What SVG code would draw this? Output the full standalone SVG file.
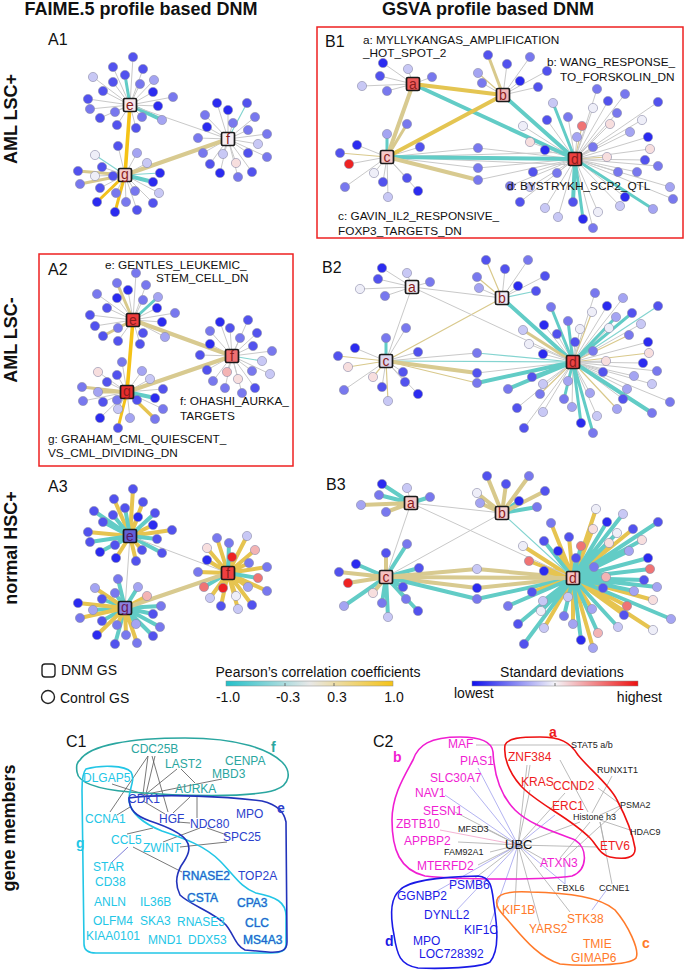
<svg xmlns="http://www.w3.org/2000/svg" width="685" height="973" viewBox="0 0 685 973">
<style>
text{font-family:"Liberation Sans",Arial,sans-serif;fill:#111}
.hd{font-size:18px;font-weight:bold;text-anchor:middle}
.rl{font-size:18px;font-weight:bold;text-anchor:middle}
.pl{font-size:16px}
.an{font-size:11.8px}
.lg{font-size:14px}
.gy,.tl,.tn,.gd,.yl,.kh,.khn,.tl3,.kh3,.gd3,.yl3{fill:none;stroke-linecap:round}
.gy{stroke:#c9c9c9;stroke-width:1}
.tn{stroke:#84d4d0;stroke-width:1.2}
.khn{stroke:#d9c98c;stroke-width:1.2}
.tl{stroke:#62ccc6;stroke-width:4}
.tl3{stroke:#62ccc6;stroke-width:3}
.gd{stroke:#f5c316;stroke-width:3.6}
.gd3{stroke:#f2c11c;stroke-width:3}
.yl{stroke:#e4c552;stroke-width:4}
.yl3{stroke:#e6c450;stroke-width:3.4}
.kh{stroke:#d8ca90;stroke-width:4}
.kh3{stroke:#d8c98c;stroke-width:3}
.w4{stroke-width:4}
.sat circle{stroke:#8a8aa8;stroke-width:.6}
.k1{fill:#2b2bf0}.k2{fill:#5252ee}.k3{fill:#7878ee}.k4{fill:#a4a4f2}.k5{fill:#c8c8f5}
.k6{fill:#eeeef8}.k7{fill:#f7dede}.k8{fill:#f3b4b4}.k9{fill:#f07474}.k10{fill:#ee2222}
.hub rect{stroke:#1a1a1a;stroke-width:1.7}
.hub text{font-size:14px;fill:#8a1c1c;text-anchor:middle}
.box{fill:none;stroke:#ee2020;stroke-width:1.5}
.cl{font-size:12px}
.cy{fill:#22c6e6}.bl{fill:#2b3fcc}.tq{fill:#2aa6a0}.mx{fill:#2a5fcc;stroke:#3cc8e8;stroke-width:.6;paint-order:stroke}
.mg{fill:#f01ed2}.rd{fill:#ee1c1c}.or{fill:#ff7a2a}.db{fill:#1a1ae6}.sm{font-size:9px;fill:#222}
.bd{font-weight:bold;font-size:14px}
.cln{stroke:#555;stroke-width:.8;fill:none}
.ug{stroke:#aaaaaa;stroke-width:.8;fill:none}
.ub{stroke:#a0a0ee;stroke-width:.8;fill:none}
</style>
<defs>
<linearGradient id="pcc" x1="0" x2="1" y1="0" y2="0"><stop offset="0" stop-color="#22c0c8"/><stop offset="0.5" stop-color="#e8e8e8"/><stop offset="1" stop-color="#f5c316"/></linearGradient>
<linearGradient id="sdg" x1="0" x2="1" y1="0" y2="0"><stop offset="0" stop-color="#1010ee"/><stop offset="0.5" stop-color="#f4f4f8"/><stop offset="1" stop-color="#ee1010"/></linearGradient>
</defs>
<rect width="685" height="973" fill="#fff"/>

<g id="headers">
<text class="hd" x="141" y="15">FAIME.5 profile based DNM</text>
<text class="hd" x="488" y="15">GSVA profile based DNM</text>
<text class="rl" transform="translate(17,119) rotate(-90)">AML LSC+</text>
<text class="rl" transform="translate(17,340) rotate(-90)">AML LSC-</text>
<text class="rl" transform="translate(17,548) rotate(-90)">normal HSC+</text>
<text class="rl" transform="translate(15,828) rotate(-90)">gene members</text>
<text class="pl" x="48" y="45">A1</text>
<text class="pl" x="325" y="47">B1</text>
<text class="pl" x="48" y="275">A2</text>
<text class="pl" x="322" y="273">B2</text>
<text class="pl" x="48" y="492">A3</text>
<text class="pl" x="326" y="490">B3</text>
<rect class="box" x="317" y="27" width="366" height="211"/>
<rect class="box" x="39" y="254" width="254" height="212"/>
</g>

<g id="connectors">
<!-- A1 -->
<path class="gy" d="M130 105L133 57M130 105L113 67M130 105L143 69M130 105L93 77M130 105L113 82M130 105L140 84M130 105L154 80M130 105L103 91M130 105L153 92M130 105L173 97M130 105L88 99M130 105L158 106M130 105L90 109M130 105L115 112M130 105L142 117M130 105L100 118M130 105L117 125M130 105L136 128"/>
<path class="gy" d="M228 139L217 103M228 139L228 110M228 139L205 115M228 139L255 117M228 139L207 127M228 139L233 123M228 139L248 130M228 139L267 134M228 139L198 138M228 139L258 144M228 139L203 153M228 139L223 154M228 139L248 153M228 139L267 157M228 139L210 164M228 139L236 163M228 139L220 173M228 139L252 172M228 139L238 177"/>
<path class="tn" d="M228 139L247 103M125 175L95 155M125 175L160 173"/>
<path class="gy" d="M125 175L118 146M125 175L137 153M125 175L147 163M125 175L102 167M125 175L95 176M125 175L113 176M125 175L100 188M125 175L135 191M125 175L116 193M125 175L159 193M125 175L126 202M125 175L153 203M125 175L137 210"/>
<path class="kh3" d="M125 175L78 171M125 175L80 184"/>
<path class="gd3" d="M125 175L115 212M125 175L97 202"/>
<path class="tl" d="M125 175L153 182M130 105L162 120"/>
<path class="tl3" d="M130 105L125 75"/>
<path class="gy" d="M130 105L228 139"/>
<path class="gd" d="M130 105L125 175"/>
<path class="kh" d="M125 175L228 139"/>
<!-- A2 -->
<path class="gy" d="M133 320L136 273M133 320L146 285M133 320L128 290M133 320L97 294M133 320L117 298M133 320L143 300M133 320L157 308M133 320L107 308M133 320L175 313M133 320L90 315M133 320L162 322M133 320L118 328M133 320L95 326M133 320L143 333M133 320L165 337M133 320L118 341M133 320L140 344"/>
<path class="gy" d="M232 356L220 322M232 356L248 320M232 356L210 331M232 356L230 328M232 356L257 333M232 356L240 338M232 356L200 355M232 356L253 346M232 356L210 344M232 356L272 351M232 356L207 370M232 356L227 372M232 356L252 371M232 356L270 374M232 356L213 381M232 356L238 379M232 356L225 388M232 356L255 388M232 356L242 393"/>
<path class="gy" d="M127 392L122 362M127 392L98 372M127 392L117 375M127 392L142 371M127 392L150 379M127 392L107 382M127 392L163 389M127 392L83 401M127 392L103 402M127 392L117 400M127 392L137 400M127 392L118 409M127 392L163 409M127 392L100 418M127 392L130 418"/>
<path class="tn" d="M232 356L262 361"/>
<path class="kh3" d="M133 320L117 283M133 320L103 336M127 392L82 387M127 392L98 392"/>
<path class="tl3" d="M133 320L158 297"/>
<path class="gd3" d="M127 392L118 428"/>
<path class="yl3" d="M127 392L155 419"/>
<path class="tl" d="M127 392L155 398"/>
<path class="kh" d="M133 320L232 356M127 392L232 356"/>
<path class="gd" d="M133 320L127 392"/>
<!-- A3 -->
<path class="yl3 w4" d="M130 536L133 489M130 536L114 499M130 536L143 502M130 536L138 517M130 536L153 525M130 536L88 532M130 536L172 530M130 536L142 550M130 536L116 558M130 536L136 561"/>
<path class="tl3 w4" d="M130 536L125 508M130 536L94 511M130 536L155 513M130 536L113 515M130 536L103 522M130 536L157 539M130 536L90 542M130 536L115 545M130 536L100 552M130 536L162 553"/>
<path class="yl3 w4" d="M228 573L217 538M228 573L247 536M228 573L207 548M228 573L255 550M228 573L232 557M228 573L207 560M228 573L249 563M228 573L198 572M228 573L267 567M228 573L223 588M228 573L248 587M228 573L267 591M228 573L210 598M228 573L236 596M228 573L221 606M228 573L252 605M228 573L238 609"/>
<path class="tl3 w4" d="M228 573L229 543M228 573L204 587M228 573L258 578"/>
<path class="tl3 w4" d="M125 608L118 579M125 608L138 587M125 608L102 599M125 608L115 593M125 608L161 606M125 608L93 610M125 608L153 614M125 608L102 621M125 608L136 624M125 608L160 627M125 608L153 636M125 608L115 644"/>
<path class="yl3 w4" d="M125 608L95 588M125 608L147 596M125 608L78 603M125 608L80 618M125 608L117 625M125 608L97 635M125 608L126 635M125 608L137 643"/>
<path class="gy" d="M130 536L228 573M130 536L125 608"/>
<path class="kh" d="M125 608L228 573"/>
<!-- B1 -->
<path class="gy" d="M413 84L383 63M413 84L408 69M413 84L380 76M413 84L362 86M413 84L387 91M413 84L432 77"/>
<path class="gy" d="M503 95L507 64M503 95L530 57M503 95L482 83M503 95L520 81M503 95L547 71M503 95L538 87"/>
<path class="khn" d="M503 95L478 73M387 157L340 153M575 159L582 126M575 159L607 157"/>
<path class="kh3" d="M503 95L488 55M387 157L407 124"/>
<path class="tl3" d="M387 157L387 134"/>
<path class="gy" d="M387 157L357 145M387 157L349 164M387 157L374 173M387 157L420 147M387 157L407 178M387 157L383 182M387 157L345 187M387 157L418 191M387 157L388 197M387 157L478 148M387 157L478 168M575 159L478 148M575 159L478 168M575 159L478 180M387 157L575 152M387 157L575 165"/>
<path class="gy" d="M575 159L597 89M575 159L608 101M575 159L625 94M575 159L658 102M575 159L593 108M575 159L617 113M575 159L642 120M575 159L547 120M575 159L568 117M575 159L610 124M575 159L523 126M575 159L630 132M575 159L530 142M575 159L577 137M575 159L648 137M575 159L545 150M575 159L593 147M575 159L650 149M575 159L645 160M575 159L658 166M575 159L533 172M575 159L557 173M575 159L618 172M575 159L637 172M575 159L510 186M575 159L530 187M575 159L670 187M575 159L625 197M575 159L673 199M575 159L520 202M575 159L545 208M575 159L598 212M575 159L620 206M575 159L558 217M575 159L593 228"/>
<path class="tl3" d="M575 159L553 103M575 159L583 219M575 159L653 209"/>
<path class="tl" d="M575 159L573 202M413 84L575 159M503 95L575 159M387 157L575 159"/>
<path class="kh" d="M413 84L387 157M387 157L478 180"/>
<path class="yl" d="M413 84L503 95M503 95L387 157"/>
<!-- B2 -->
<path class="gy" d="M412 287L382 268M412 287L407 273M412 287L378 279M412 287L430 282M412 287L360 289M412 287L385 296"/>
<path class="gy" d="M502 298L528 260M502 298L505 269M502 298L545 276M502 298L479 288M502 298L518 286"/>
<path class="khn" d="M502 298L486 260M502 298L477 277M386 361L338 356M386 361L348 367M386 361L373 377M386 361L388 401M386 361L477 383M573 362L540 394M573 362L617 409M573 362L592 312M573 362L649 353M573 362L629 335M502 298L386 361"/>
<path class="tn" d="M502 298L536 291M573 362L658 306M573 362L477 353"/>
<path class="tl3" d="M386 361L386 338"/>
<path class="gy" d="M386 361L406 328M386 361L355 348M386 361L418 352M386 361L403 372M386 361L405 382M386 361L382 387M386 361L344 390M386 361L418 394M386 361L477 353M573 362L477 373"/>
<path class="gy" d="M573 362L595 293M573 362L623 298M573 362L607 306M573 362L580 329M573 362L609 328M573 362L641 324M573 362L544 325M573 362L557 334M573 362L529 344M573 362L575 342M573 362L593 351M573 362L648 342M573 362L543 354M573 362L606 361M573 362L643 363M573 362L603 372M573 362L657 371M573 362L634 376M573 362L568 381M573 362L543 384M573 362L652 384M573 362L627 389M573 362L590 393M573 362L623 399M573 362L670 402M573 362L517 408M573 362L572 407M573 362L543 412M573 362L597 416M573 362L524 428"/>
<path class="tl3" d="M573 362L551 307M573 362L568 321M573 362L632 313M573 362L616 317M573 362L532 377M573 362L581 423M573 362L593 433M573 362L564 399"/>
<path class="tl" d="M573 362L508 389M573 362L652 413M573 362L477 383M502 298L573 362"/>
<path class="kh3" d="M573 362L523 330"/>
<path class="tn" d="M386 361L573 362"/>
<path class="gy" d="M412 287L502 298M412 287L386 361M412 287L573 362"/>
<path class="kh" d="M386 361L477 373"/>
<!-- B3 -->
<path class="tl3 w4" d="M411 503L382 484M411 503L379 495M411 503L430 497M502 513L519 501M502 513L537 507"/>
<path class="kh3 w4" d="M411 503L361 505M411 503L386 512M502 513L487 476M502 513L529 476M502 513L506 484M502 513L477 493M502 513L480 503M502 513L545 491"/>
<path class="gy" d="M411 503L407 488"/>
<path class="tl3 w4" d="M386 577L407 544M386 577L356 564M386 577L419 568M386 577L403 587M386 577L406 599M386 577L382 603M386 577L344 606M386 577L418 611M386 577L388 617"/>
<path class="kh3 w4" d="M386 577L386 553M386 577L339 572M386 577L348 583M386 577L373 593"/>
<path class="kh" d="M386 577L477 569M386 577L477 588M573 578L477 569M573 578L477 588"/>
<path class="tl" d="M386 577L477 599M573 578L477 599"/>
<path class="yl3 w4" d="M573 578L596 509M573 578L551 523M573 578L593 529M573 578L633 529M573 578L569 537M573 578L609 543M573 578L523 546M573 578L558 551M573 578L529 561M573 578L594 567M573 578L544 571M573 578L606 577M573 578L603 588M573 578L532 592M573 578L568 597M573 578L653 600M573 578L627 606M573 578L592 609M573 578L624 615M573 578L573 624M573 578L544 628M573 578L653 630M573 578L593 648"/>
<path class="tl3 w4" d="M573 578L623 514M573 578L607 522M573 578L658 522M573 578L617 533M573 578L581 546M573 578L642 540M573 578L544 541M573 578L629 551M573 578L576 558M573 578L648 558M573 578L650 569M573 578L644 580M573 578L657 587M573 578L634 591M573 578L543 601M573 578L508 606M573 578L541 611M573 578L564 616M573 578L671 619M573 578L518 624M573 578L618 627M573 578L598 633M573 578L581 640M573 578L524 644"/>
<path class="gy" d="M411 503L502 513M411 503L386 577M411 503L573 578M502 513L386 577"/>
<path class="tn" d="M502 513L573 578"/>
<path class="kh" d="M386 577L573 578"/>
<!-- C1 -->
<path class="cln" d="M148 756L110 812M148 756L143 794M152 756L168 812M155 756L146 794M177 769L146 794M181 769L195 783M222 779L147 794M112 784L146 795M143 801L165 814M190 797L173 813M197 797L197 818M130 807L117 815M127 834L153 828M163 842L200 828M207 828L227 835M180 847L227 842M177 822L190 823M133 847L182 872"/>
<path d="M128 847L112 862" stroke="#5a5acc" stroke-width=".8" fill="none"/>
<!-- C2 -->
<path class="ug" d="M518 845L527 765M518 845L530 790M518 845L455 812M518 845L488 830M518 845L458 842M518 845L490 852M518 845L478 865M518 845L470 882M518 845L515 905M518 845L540 925M518 845L570 912M518 845L548 862M518 845L598 847M518 845L580 822M518 845L565 793M476 745L570 745M530 765L528 778M560 760L588 812M612 776L592 813M598 788L620 804M620 806L600 815M620 808L565 858M600 820L630 830M590 822L560 858M600 822L605 846M612 884L600 822"/>
<path class="ub" d="M518 845L478 768M518 845L470 786M518 845L445 795M518 845L430 895M518 845L455 912M518 845L490 925M518 845L555 815M518 845L565 884M608 888L592 910M565 862L565 884"/>
<path d="M518 845L440 830" stroke="#f0a0c8" stroke-width=".8" fill="none"/>
</g>

<g id="A1-satellites" class="sat">
<circle cx="133" cy="57" r="4.6" class="k2"/><circle cx="113" cy="67" r="4.6" class="k2"/><circle cx="143" cy="69" r="4.6" class="k2"/><circle cx="93" cy="77" r="4.6" class="k5"/><circle cx="125" cy="75" r="4.6" class="k2"/><circle cx="113" cy="82" r="4.6" class="k2"/><circle cx="140" cy="84" r="4.6" class="k3"/><circle cx="154" cy="80" r="4.6" class="k4"/><circle cx="103" cy="91" r="4.6" class="k2"/><circle cx="153" cy="92" r="4.6" class="k1"/><circle cx="173" cy="97" r="4.6" class="k3"/><circle cx="88" cy="99" r="4.6" class="k2"/><circle cx="158" cy="106" r="4.6" class="k1"/><circle cx="90" cy="109" r="4.6" class="k3"/><circle cx="115" cy="112" r="4.6" class="k3"/><circle cx="142" cy="117" r="4.6" class="k3"/><circle cx="162" cy="120" r="4.6" class="k4"/><circle cx="100" cy="118" r="4.6" class="k2"/><circle cx="117" cy="125" r="4.6" class="k2"/><circle cx="136" cy="128" r="4.6" class="k2"/>
<circle cx="217" cy="103" r="4.6" class="k1"/><circle cx="228" cy="110" r="4.6" class="k1"/><circle cx="247" cy="103" r="4.6" class="k2"/><circle cx="205" cy="115" r="4.6" class="k3"/><circle cx="255" cy="117" r="4.6" class="k3"/><circle cx="207" cy="127" r="4.6" class="k1"/><circle cx="233" cy="123" r="4.6" class="k3"/><circle cx="248" cy="130" r="4.6" class="k3"/><circle cx="267" cy="134" r="4.6" class="k3"/><circle cx="198" cy="138" r="4.6" class="k3"/><circle cx="258" cy="144" r="4.6" class="k5"/><circle cx="203" cy="153" r="4.6" class="k3"/><circle cx="223" cy="154" r="4.6" class="k5"/><circle cx="248" cy="153" r="4.6" class="k2"/><circle cx="267" cy="157" r="4.6" class="k3"/><circle cx="210" cy="164" r="4.6" class="k2"/><circle cx="236" cy="163" r="4.6" class="k7"/><circle cx="220" cy="173" r="4.6" class="k1"/><circle cx="252" cy="172" r="4.6" class="k2"/><circle cx="238" cy="177" r="4.6" class="k3"/>
<circle cx="118" cy="146" r="4.6" class="k2"/><circle cx="95" cy="155" r="4.6" class="k6"/><circle cx="137" cy="153" r="4.6" class="k4"/><circle cx="147" cy="163" r="4.6" class="k5"/><circle cx="102" cy="167" r="4.6" class="k2"/><circle cx="78" cy="171" r="4.6" class="k2"/><circle cx="160" cy="173" r="4.6" class="k1"/><circle cx="95" cy="176" r="4.6" class="k6"/><circle cx="113" cy="176" r="4.6" class="k2"/><circle cx="153" cy="182" r="4.6" class="k1"/><circle cx="80" cy="184" r="4.6" class="k3"/><circle cx="100" cy="188" r="4.6" class="k2"/><circle cx="135" cy="191" r="4.6" class="k3"/><circle cx="116" cy="193" r="4.6" class="k3"/><circle cx="159" cy="193" r="4.6" class="k5"/><circle cx="97" cy="202" r="4.6" class="k1"/><circle cx="126" cy="202" r="4.6" class="k3"/><circle cx="153" cy="203" r="4.6" class="k2"/><circle cx="115" cy="212" r="4.6" class="k1"/><circle cx="137" cy="210" r="4.6" class="k2"/>
</g>
<g id="A1-e" class="hub"><rect x="123.5" y="98.5" width="13" height="13" rx="1.5" fill="#f8e8ec"/><text x="130" y="110">e</text></g>
<g id="A1-f" class="hub"><rect x="221.5" y="132.5" width="13" height="13" rx="1.5" fill="#f6f0f5"/><text x="228" y="144">f</text></g>
<g id="A1-g" class="hub"><rect x="118.5" y="168.5" width="13" height="13" rx="1.5" fill="#f3cccc"/><text x="125" y="179">g</text></g>

<g id="A2-satellites" class="sat">
<circle cx="136" cy="273" r="4.6" class="k3"/><circle cx="117" cy="283" r="4.6" class="k3"/><circle cx="146" cy="285" r="4.6" class="k3"/><circle cx="128" cy="290" r="4.6" class="k1"/><circle cx="97" cy="294" r="4.6" class="k3"/><circle cx="117" cy="298" r="4.6" class="k1"/><circle cx="143" cy="300" r="4.6" class="k3"/><circle cx="158" cy="297" r="4.6" class="k4"/><circle cx="157" cy="308" r="4.6" class="k1"/><circle cx="107" cy="308" r="4.6" class="k2"/><circle cx="175" cy="313" r="4.6" class="k3"/><circle cx="90" cy="315" r="4.6" class="k2"/><circle cx="162" cy="322" r="4.6" class="k1"/><circle cx="118" cy="328" r="4.6" class="k3"/><circle cx="95" cy="326" r="4.6" class="k2"/><circle cx="143" cy="333" r="4.6" class="k2"/><circle cx="165" cy="337" r="4.6" class="k4"/><circle cx="103" cy="336" r="4.6" class="k2"/><circle cx="118" cy="341" r="4.6" class="k2"/><circle cx="140" cy="344" r="4.6" class="k2"/>
<circle cx="220" cy="322" r="4.6" class="k1"/><circle cx="248" cy="320" r="4.6" class="k2"/><circle cx="210" cy="331" r="4.6" class="k3"/><circle cx="230" cy="328" r="4.6" class="k2"/><circle cx="257" cy="333" r="4.6" class="k2"/><circle cx="240" cy="338" r="4.6" class="k3"/><circle cx="200" cy="355" r="4.6" class="k2"/><circle cx="253" cy="346" r="4.6" class="k2"/><circle cx="210" cy="344" r="4.6" class="k1"/><circle cx="272" cy="351" r="4.6" class="k3"/><circle cx="262" cy="361" r="4.6" class="k5"/><circle cx="207" cy="370" r="4.6" class="k2"/><circle cx="227" cy="372" r="4.6" class="k8"/><circle cx="252" cy="371" r="4.6" class="k3"/><circle cx="270" cy="374" r="4.6" class="k5"/><circle cx="213" cy="381" r="4.6" class="k3"/><circle cx="238" cy="379" r="4.6" class="k7"/><circle cx="225" cy="388" r="4.6" class="k3"/><circle cx="255" cy="388" r="4.6" class="k2"/><circle cx="242" cy="393" r="4.6" class="k3"/>
<circle cx="122" cy="362" r="4.6" class="k3"/><circle cx="98" cy="372" r="4.6" class="k7"/><circle cx="117" cy="375" r="4.6" class="k2"/><circle cx="142" cy="371" r="4.6" class="k4"/><circle cx="150" cy="379" r="4.6" class="k5"/><circle cx="82" cy="387" r="4.6" class="k3"/><circle cx="107" cy="382" r="4.6" class="k2"/><circle cx="98" cy="392" r="4.6" class="k4"/><circle cx="163" cy="389" r="4.6" class="k2"/><circle cx="155" cy="398" r="4.6" class="k1"/><circle cx="83" cy="401" r="4.6" class="k3"/><circle cx="103" cy="402" r="4.6" class="k2"/><circle cx="117" cy="400" r="4.6" class="k3"/><circle cx="137" cy="400" r="4.6" class="k2"/><circle cx="118" cy="409" r="4.6" class="k5"/><circle cx="163" cy="409" r="4.6" class="k3"/><circle cx="100" cy="418" r="4.6" class="k1"/><circle cx="130" cy="418" r="4.6" class="k4"/><circle cx="155" cy="419" r="4.6" class="k3"/><circle cx="118" cy="428" r="4.6" class="k2"/>
</g>
<g id="A2-e" class="hub"><rect x="126.5" y="313.5" width="13" height="13" rx="1.5" fill="#ee3b3b"/><text x="133" y="325">e</text></g>
<g id="A2-f" class="hub"><rect x="225.5" y="349.5" width="13" height="13" rx="1.5" fill="#f07070"/><text x="232" y="361">f</text></g>
<g id="A2-g" class="hub"><rect x="120.5" y="385.5" width="13" height="13" rx="1.5" fill="#e82c2c"/><text x="127" y="396">g</text></g>
<g id="A2-labels">
<text class="an" x="105" y="269">e: GENTLES_LEUKEMIC_</text>
<text class="an" x="156" y="282">STEM_CELL_DN</text>
<text class="an" x="180" y="405">f: OHASHI_AURKA_</text>
<text class="an" x="180" y="420">TARGETS</text>
<text class="an" x="48" y="443">g: GRAHAM_CML_QUIESCENT_</text>
<text class="an" x="48" y="457">VS_CML_DIVIDING_DN</text>
</g>

<g id="A3-satellites" class="sat">
<circle cx="133" cy="489" r="4.6" class="k2"/><circle cx="114" cy="499" r="4.6" class="k2"/><circle cx="143" cy="502" r="4.6" class="k2"/><circle cx="125" cy="508" r="4.6" class="k2"/><circle cx="94" cy="511" r="4.6" class="k2"/><circle cx="155" cy="513" r="4.6" class="k2"/><circle cx="113" cy="515" r="4.6" class="k2"/><circle cx="138" cy="517" r="4.6" class="k1"/><circle cx="103" cy="522" r="4.6" class="k2"/><circle cx="153" cy="525" r="4.6" class="k1"/><circle cx="88" cy="532" r="4.6" class="k2"/><circle cx="172" cy="530" r="4.6" class="k2"/><circle cx="157" cy="539" r="4.6" class="k2"/><circle cx="90" cy="542" r="4.6" class="k2"/><circle cx="115" cy="545" r="4.6" class="k2"/><circle cx="142" cy="550" r="4.6" class="k2"/><circle cx="100" cy="552" r="4.6" class="k1"/><circle cx="162" cy="553" r="4.6" class="k2"/><circle cx="116" cy="558" r="4.6" class="k1"/><circle cx="136" cy="561" r="4.6" class="k2"/>
<circle cx="217" cy="538" r="4.6" class="k3"/><circle cx="229" cy="543" r="4.6" class="k3"/><circle cx="247" cy="536" r="4.6" class="k5"/><circle cx="207" cy="548" r="4.6" class="k7"/><circle cx="255" cy="550" r="4.6" class="k8"/><circle cx="232" cy="557" r="4.6" class="k10"/><circle cx="207" cy="560" r="4.6" class="k1"/><circle cx="249" cy="563" r="4.6" class="k3"/><circle cx="198" cy="572" r="4.6" class="k3"/><circle cx="267" cy="567" r="4.6" class="k3"/><circle cx="258" cy="578" r="4.6" class="k9"/><circle cx="204" cy="587" r="4.6" class="k9"/><circle cx="223" cy="588" r="4.6" class="k10"/><circle cx="248" cy="587" r="4.6" class="k4"/><circle cx="267" cy="591" r="4.6" class="k3"/><circle cx="210" cy="598" r="4.6" class="k5"/><circle cx="236" cy="596" r="4.6" class="k6"/><circle cx="221" cy="606" r="4.6" class="k2"/><circle cx="252" cy="605" r="4.6" class="k2"/><circle cx="238" cy="609" r="4.6" class="k5"/>
<circle cx="118" cy="579" r="4.6" class="k3"/><circle cx="95" cy="588" r="4.6" class="k4"/><circle cx="138" cy="587" r="4.6" class="k4"/><circle cx="147" cy="596" r="4.6" class="k8"/><circle cx="102" cy="599" r="4.6" class="k2"/><circle cx="78" cy="603" r="4.6" class="k1"/><circle cx="115" cy="593" r="4.6" class="k3"/><circle cx="161" cy="606" r="4.6" class="k3"/><circle cx="93" cy="610" r="4.6" class="k4"/><circle cx="153" cy="614" r="4.6" class="k2"/><circle cx="80" cy="618" r="4.6" class="k3"/><circle cx="102" cy="621" r="4.6" class="k2"/><circle cx="117" cy="625" r="4.6" class="k3"/><circle cx="136" cy="624" r="4.6" class="k4"/><circle cx="160" cy="627" r="4.6" class="k3"/><circle cx="97" cy="635" r="4.6" class="k1"/><circle cx="126" cy="635" r="4.6" class="k3"/><circle cx="153" cy="636" r="4.6" class="k2"/><circle cx="115" cy="644" r="4.6" class="k2"/><circle cx="137" cy="643" r="4.6" class="k3"/>
</g>
<g id="A3-e" class="hub"><rect x="123.5" y="529.5" width="13" height="13" rx="1.5" fill="#6060d8"/><text x="130" y="541" style="fill:#5a1a6a">e</text></g>
<g id="A3-f" class="hub"><rect x="221.5" y="566.5" width="13" height="13" rx="1.5" fill="#ee4040"/><text x="228" y="578">f</text></g>
<g id="A3-g" class="hub"><rect x="118.5" y="601.5" width="13" height="13" rx="1.5" fill="#8a80e0"/><text x="125" y="612" style="fill:#6a1a5a">g</text></g>

<g id="B1-satellites" class="sat">
<circle cx="383" cy="63" r="4.6" class="k1"/><circle cx="408" cy="69" r="4.6" class="k5"/><circle cx="380" cy="76" r="4.6" class="k2"/><circle cx="362" cy="86" r="4.6" class="k5"/><circle cx="387" cy="91" r="4.6" class="k3"/><circle cx="432" cy="77" r="4.6" class="k3"/>
<circle cx="488" cy="55" r="4.6" class="k2"/><circle cx="507" cy="64" r="4.6" class="k2"/><circle cx="530" cy="57" r="4.6" class="k3"/><circle cx="478" cy="73" r="4.6" class="k4"/><circle cx="482" cy="83" r="4.6" class="k3"/><circle cx="520" cy="81" r="4.6" class="k1"/><circle cx="547" cy="71" r="4.6" class="k2"/><circle cx="538" cy="87" r="4.6" class="k2"/>
<circle cx="407" cy="124" r="4.6" class="k3"/><circle cx="387" cy="134" r="4.6" class="k4"/><circle cx="357" cy="145" r="4.6" class="k1"/><circle cx="340" cy="153" r="4.6" class="k2"/><circle cx="349" cy="164" r="4.6" class="k10"/><circle cx="374" cy="173" r="4.6" class="k6"/><circle cx="420" cy="147" r="4.6" class="k2"/><circle cx="407" cy="178" r="4.6" class="k2"/><circle cx="383" cy="182" r="4.6" class="k2"/><circle cx="345" cy="187" r="4.6" class="k3"/><circle cx="418" cy="191" r="4.6" class="k1"/><circle cx="388" cy="197" r="4.6" class="k5"/>
<circle cx="478" cy="148" r="4.6" class="k3"/><circle cx="478" cy="168" r="4.6" class="k3"/><circle cx="478" cy="180" r="4.6" class="k3"/>
<circle cx="597" cy="89" r="4.6" class="k3"/><circle cx="608" cy="101" r="4.6" class="k2"/><circle cx="625" cy="94" r="4.6" class="k3"/><circle cx="658" cy="102" r="4.6" class="k2"/><circle cx="553" cy="103" r="4.6" class="k5"/><circle cx="593" cy="108" r="4.6" class="k6"/><circle cx="617" cy="113" r="4.6" class="k3"/><circle cx="642" cy="120" r="4.6" class="k6"/><circle cx="547" cy="120" r="4.6" class="k2"/><circle cx="568" cy="117" r="4.6" class="k3"/><circle cx="582" cy="126" r="4.6" class="k9"/><circle cx="610" cy="124" r="4.6" class="k7"/><circle cx="523" cy="126" r="4.6" class="k6"/><circle cx="630" cy="132" r="4.6" class="k4"/><circle cx="530" cy="142" r="4.6" class="k7"/><circle cx="577" cy="137" r="4.6" class="k4"/><circle cx="648" cy="137" r="4.6" class="k1"/><circle cx="545" cy="150" r="4.6" class="k1"/><circle cx="593" cy="147" r="4.6" class="k3"/><circle cx="650" cy="149" r="4.6" class="k7"/><circle cx="607" cy="157" r="4.6" class="k7"/><circle cx="645" cy="160" r="4.6" class="k2"/><circle cx="658" cy="166" r="4.6" class="k3"/><circle cx="533" cy="172" r="4.6" class="k2"/><circle cx="557" cy="173" r="4.6" class="k3"/><circle cx="618" cy="172" r="4.6" class="k3"/><circle cx="637" cy="172" r="4.6" class="k3"/><circle cx="510" cy="186" r="4.6" class="k3"/><circle cx="530" cy="187" r="4.6" class="k5"/><circle cx="670" cy="187" r="4.6" class="k4"/><circle cx="625" cy="197" r="4.6" class="k1"/><circle cx="673" cy="199" r="4.6" class="k3"/><circle cx="520" cy="202" r="4.6" class="k2"/><circle cx="545" cy="208" r="4.6" class="k5"/><circle cx="573" cy="202" r="4.6" class="k2"/><circle cx="598" cy="212" r="4.6" class="k6"/><circle cx="620" cy="206" r="4.6" class="k5"/><circle cx="653" cy="209" r="4.6" class="k4"/><circle cx="558" cy="217" r="4.6" class="k5"/><circle cx="583" cy="219" r="4.6" class="k1"/><circle cx="593" cy="228" r="4.6" class="k3"/>
</g>
<g id="B1-a" class="hub"><rect x="406.5" y="77.5" width="13" height="13" rx="1.5" fill="#ee5a5a"/><text x="413" y="89">a</text></g>
<g id="B1-b" class="hub"><rect x="496.5" y="88.5" width="13" height="13" rx="1.5" fill="#f4b8b8"/><text x="503" y="100">b</text></g>
<g id="B1-c" class="hub"><rect x="380.5" y="150.5" width="13" height="13" rx="1.5" fill="#f6caca"/><text x="387" y="162">c</text></g>
<g id="B1-d" class="hub"><rect x="568.5" y="152.5" width="13" height="13" rx="1.5" fill="#ee4040"/><text x="575" y="164">d</text></g>
<g id="B1-labels">
<text class="an" x="363" y="44">a: MYLLYKANGAS_AMPLIFICATION</text>
<text class="an" x="363" y="57">_HOT_SPOT_2</text>
<text class="an" x="547" y="66">b: WANG_RESPONSE_</text>
<text class="an" x="560" y="81">TO_FORSKOLIN_DN</text>
<text class="an" x="507" y="190">d: BYSTRYKH_SCP2_QTL</text>
<text class="an" x="338" y="220">c: GAVIN_IL2_RESPONSIVE_</text>
<text class="an" x="338" y="235">FOXP3_TARGETS_DN</text>
</g>

<g id="B2-satellites" class="sat">
<circle cx="382" cy="268" r="4.6" class="k1"/><circle cx="407" cy="273" r="4.6" class="k5"/><circle cx="378" cy="279" r="4.6" class="k2"/><circle cx="430" cy="282" r="4.6" class="k3"/><circle cx="360" cy="289" r="4.6" class="k6"/><circle cx="385" cy="296" r="4.6" class="k3"/>
<circle cx="486" cy="260" r="4.6" class="k2"/><circle cx="528" cy="260" r="4.6" class="k3"/><circle cx="505" cy="269" r="4.6" class="k2"/><circle cx="477" cy="277" r="4.6" class="k3"/><circle cx="545" cy="276" r="4.6" class="k2"/><circle cx="479" cy="288" r="4.6" class="k4"/><circle cx="518" cy="286" r="4.6" class="k1"/><circle cx="536" cy="291" r="4.6" class="k2"/>
<circle cx="406" cy="328" r="4.6" class="k3"/><circle cx="386" cy="338" r="4.6" class="k3"/><circle cx="355" cy="348" r="4.6" class="k1"/><circle cx="338" cy="356" r="4.6" class="k2"/><circle cx="418" cy="352" r="4.6" class="k2"/><circle cx="348" cy="367" r="4.6" class="k7"/><circle cx="373" cy="377" r="4.6" class="k7"/><circle cx="403" cy="372" r="4.6" class="k2"/><circle cx="405" cy="382" r="4.6" class="k2"/><circle cx="382" cy="387" r="4.6" class="k2"/><circle cx="344" cy="390" r="4.6" class="k3"/><circle cx="418" cy="394" r="4.6" class="k1"/><circle cx="388" cy="401" r="4.6" class="k5"/>
<circle cx="477" cy="353" r="4.6" class="k3"/><circle cx="477" cy="373" r="4.6" class="k2"/><circle cx="477" cy="383" r="4.6" class="k3"/>
<circle cx="595" cy="293" r="4.6" class="k3"/><circle cx="623" cy="298" r="4.6" class="k4"/><circle cx="551" cy="307" r="4.6" class="k3"/><circle cx="607" cy="306" r="4.6" class="k1"/><circle cx="592" cy="312" r="4.6" class="k6"/><circle cx="658" cy="306" r="4.6" class="k2"/><circle cx="632" cy="313" r="4.6" class="k2"/><circle cx="616" cy="317" r="4.6" class="k4"/><circle cx="568" cy="321" r="4.6" class="k3"/><circle cx="580" cy="329" r="4.6" class="k6"/><circle cx="609" cy="328" r="4.6" class="k6"/><circle cx="641" cy="324" r="4.6" class="k5"/><circle cx="523" cy="330" r="4.6" class="k5"/><circle cx="544" cy="325" r="4.6" class="k1"/><circle cx="557" cy="334" r="4.6" class="k2"/><circle cx="629" cy="335" r="4.6" class="k3"/><circle cx="529" cy="344" r="4.6" class="k6"/><circle cx="575" cy="342" r="4.6" class="k2"/><circle cx="593" cy="351" r="4.6" class="k3"/><circle cx="648" cy="342" r="4.6" class="k1"/><circle cx="543" cy="354" r="4.6" class="k1"/><circle cx="649" cy="353" r="4.6" class="k7"/><circle cx="606" cy="361" r="4.6" class="k7"/><circle cx="643" cy="363" r="4.6" class="k1"/><circle cx="603" cy="372" r="4.6" class="k2"/><circle cx="657" cy="371" r="4.6" class="k3"/><circle cx="532" cy="377" r="4.6" class="k2"/><circle cx="634" cy="376" r="4.6" class="k4"/><circle cx="568" cy="381" r="4.6" class="k4"/><circle cx="543" cy="384" r="4.6" class="k5"/><circle cx="652" cy="384" r="4.6" class="k5"/><circle cx="508" cy="389" r="4.6" class="k3"/><circle cx="627" cy="389" r="4.6" class="k4"/><circle cx="540" cy="394" r="4.6" class="k3"/><circle cx="590" cy="393" r="4.6" class="k4"/><circle cx="564" cy="399" r="4.6" class="k3"/><circle cx="623" cy="399" r="4.6" class="k2"/><circle cx="670" cy="402" r="4.6" class="k3"/><circle cx="517" cy="408" r="4.6" class="k2"/><circle cx="572" cy="407" r="4.6" class="k4"/><circle cx="617" cy="409" r="4.6" class="k4"/><circle cx="543" cy="412" r="4.6" class="k5"/><circle cx="597" cy="416" r="4.6" class="k5"/><circle cx="652" cy="413" r="4.6" class="k3"/><circle cx="581" cy="423" r="4.6" class="k1"/><circle cx="524" cy="428" r="4.6" class="k2"/><circle cx="593" cy="433" r="4.6" class="k3"/>
</g>
<g id="B2-a" class="hub"><rect x="405.5" y="280.5" width="13" height="13" rx="1.5" fill="#f0eef5"/><text x="412" y="292">a</text></g>
<g id="B2-b" class="hub"><rect x="495.5" y="291.5" width="13" height="13" rx="1.5" fill="#eceaf5"/><text x="502" y="303">b</text></g>
<g id="B2-c" class="hub"><rect x="379.5" y="354.5" width="13" height="13" rx="1.5" fill="#dcd8f0"/><text x="386" y="366">c</text></g>
<g id="B2-d" class="hub"><rect x="566.5" y="355.5" width="13" height="13" rx="1.5" fill="#ee4444"/><text x="573" y="367">d</text></g>

<g id="B3-satellites" class="sat">
<circle cx="382" cy="484" r="4.6" class="k1"/><circle cx="407" cy="488" r="4.6" class="k5"/><circle cx="379" cy="495" r="4.6" class="k3"/><circle cx="430" cy="497" r="4.6" class="k3"/><circle cx="361" cy="505" r="4.6" class="k4"/><circle cx="386" cy="512" r="4.6" class="k3"/>
<circle cx="487" cy="476" r="4.6" class="k2"/><circle cx="529" cy="476" r="4.6" class="k3"/><circle cx="506" cy="484" r="4.6" class="k2"/><circle cx="477" cy="493" r="4.6" class="k6"/><circle cx="545" cy="491" r="4.6" class="k2"/><circle cx="480" cy="503" r="4.6" class="k4"/><circle cx="519" cy="501" r="4.6" class="k1"/><circle cx="537" cy="507" r="4.6" class="k3"/>
<circle cx="407" cy="544" r="4.6" class="k3"/><circle cx="386" cy="553" r="4.6" class="k2"/><circle cx="356" cy="564" r="4.6" class="k1"/><circle cx="339" cy="572" r="4.6" class="k2"/><circle cx="419" cy="568" r="4.6" class="k2"/><circle cx="348" cy="583" r="4.6" class="k10"/><circle cx="373" cy="593" r="4.6" class="k7"/><circle cx="403" cy="587" r="4.6" class="k2"/><circle cx="406" cy="599" r="4.6" class="k3"/><circle cx="382" cy="603" r="4.6" class="k3"/><circle cx="344" cy="606" r="4.6" class="k4"/><circle cx="418" cy="611" r="4.6" class="k2"/><circle cx="388" cy="617" r="4.6" class="k5"/>
<circle cx="477" cy="569" r="4.6" class="k5"/><circle cx="477" cy="588" r="4.6" class="k1"/><circle cx="477" cy="599" r="4.6" class="k3"/>
<circle cx="596" cy="509" r="4.6" class="k6"/><circle cx="623" cy="514" r="4.6" class="k5"/><circle cx="551" cy="523" r="4.6" class="k3"/><circle cx="607" cy="522" r="4.6" class="k1"/><circle cx="593" cy="529" r="4.6" class="k7"/><circle cx="658" cy="522" r="4.6" class="k2"/><circle cx="633" cy="529" r="4.6" class="k2"/><circle cx="617" cy="533" r="4.6" class="k6"/><circle cx="569" cy="537" r="4.6" class="k2"/><circle cx="581" cy="546" r="4.6" class="k9"/><circle cx="609" cy="543" r="4.6" class="k7"/><circle cx="642" cy="540" r="4.6" class="k7"/><circle cx="523" cy="546" r="4.6" class="k6"/><circle cx="544" cy="541" r="4.6" class="k2"/><circle cx="558" cy="551" r="4.6" class="k1"/><circle cx="629" cy="551" r="4.6" class="k4"/><circle cx="529" cy="561" r="4.6" class="k9"/><circle cx="576" cy="558" r="4.6" class="k2"/><circle cx="594" cy="567" r="4.6" class="k3"/><circle cx="648" cy="558" r="4.6" class="k1"/><circle cx="544" cy="571" r="4.6" class="k1"/><circle cx="650" cy="569" r="4.6" class="k9"/><circle cx="606" cy="577" r="4.6" class="k8"/><circle cx="644" cy="580" r="4.6" class="k2"/><circle cx="603" cy="588" r="4.6" class="k2"/><circle cx="657" cy="587" r="4.6" class="k4"/><circle cx="532" cy="592" r="4.6" class="k2"/><circle cx="634" cy="591" r="4.6" class="k4"/><circle cx="568" cy="597" r="4.6" class="k5"/><circle cx="543" cy="601" r="4.6" class="k5"/><circle cx="653" cy="600" r="4.6" class="k7"/><circle cx="508" cy="606" r="4.6" class="k3"/><circle cx="627" cy="606" r="4.6" class="k9"/><circle cx="541" cy="611" r="4.6" class="k6"/><circle cx="592" cy="609" r="4.6" class="k4"/><circle cx="564" cy="616" r="4.6" class="k3"/><circle cx="624" cy="615" r="4.6" class="k2"/><circle cx="671" cy="619" r="4.6" class="k4"/><circle cx="518" cy="624" r="4.6" class="k2"/><circle cx="573" cy="624" r="4.6" class="k4"/><circle cx="618" cy="627" r="4.6" class="k5"/><circle cx="544" cy="628" r="4.6" class="k5"/><circle cx="598" cy="633" r="4.6" class="k8"/><circle cx="653" cy="630" r="4.6" class="k6"/><circle cx="581" cy="640" r="4.6" class="k1"/><circle cx="524" cy="644" r="4.6" class="k2"/><circle cx="593" cy="648" r="4.6" class="k4"/>
</g>
<g id="B3-a" class="hub"><rect x="404.5" y="496.5" width="13" height="13" rx="1.5" fill="#f5c8c8"/><text x="411" y="508">a</text></g>
<g id="B3-b" class="hub"><rect x="495.5" y="506.5" width="13" height="13" rx="1.5" fill="#f5d0d0"/><text x="502" y="518">b</text></g>
<g id="B3-c" class="hub"><rect x="379.5" y="570.5" width="13" height="13" rx="1.5" fill="#f5c0c0"/><text x="386" y="582">c</text></g>
<g id="B3-d" class="hub"><rect x="566.5" y="571.5" width="13" height="13" rx="1.5" fill="#f5c2c2"/><text x="573" y="583">d</text></g>

<g id="legend">
<rect x="42" y="664" width="13" height="13" rx="3" fill="#fff" stroke="#222" stroke-width="1.4"/>
<text class="lg" x="61" y="675">DNM GS</text>
<circle cx="48" cy="697" r="6.5" fill="#fff" stroke="#222" stroke-width="1.4"/>
<text class="lg" x="60" y="703">Control GS</text>
<text class="lg" x="318" y="677" text-anchor="middle">Pearson’s correlation coefficients</text>
<rect x="226" y="681" width="167" height="5" fill="url(#pcc)" stroke="#888" stroke-width=".5"/>
<path d="M285 683v3M334 683v3" stroke="#555" stroke-width=".8"/>
<text class="lg" x="228" y="702" text-anchor="middle">-1.0</text>
<text class="lg" x="288" y="702" text-anchor="middle">-0.3</text>
<text class="lg" x="337" y="702" text-anchor="middle">0.3</text>
<text class="lg" x="394" y="702" text-anchor="middle">1.0</text>
<text class="lg" x="562" y="677" text-anchor="middle">Standard deviations</text>
<rect x="472" y="681" width="166" height="5" fill="url(#sdg)" stroke="#888" stroke-width=".5"/>
<path d="M555 683v3" stroke="#555" stroke-width=".8"/>
<text class="lg" x="454" y="698">lowest</text>
<text class="lg" x="662" y="702" text-anchor="end">highest</text>
</g>

<g id="C1">
<text class="pl" x="66" y="747">C1</text>
<path d="M80 760C90 745 130 738 185 738C240 738 270 750 282 762C292 772 290 785 275 790C250 798 180 796 130 792C95 789 78 782 77 772C76 766 77 762 80 760Z" fill="none" stroke="#2aa6a0" stroke-width="1.6"/>
<path d="M86 769C100 765 125 765 131 772C136 781 128 790 129 801C131 813 142 823 162 831C186 839 205 846 220 861C234 875 241 888 256 893C276 897 286 902 286 916L286 944C286 951 281 953 271 953L96 953C88 953 84 950 84 944L82 790C82 779 83 772 86 769Z" fill="none" stroke="#22c6e6" stroke-width="1.6"/>
<path d="M129 798C165 793 230 797 262 801C278 805 284 812 286 822L287 942C287 950 282 953 268 952L245 950C236 946 234 935 226 925C214 912 190 905 180 895C175 885 176 875 181 866C188 856 192 848 186 840C180 832 165 826 150 821C136 816 129 810 129 798Z" fill="none" stroke="#2233bb" stroke-width="1.6"/>
<text class="bd tq" x="271" y="752">f</text>
<text class="bd bl" x="277" y="813">e</text>
<text class="bd cy" x="76" y="848">g</text>
<text class="cl tq" x="131" y="753">CDC25B</text>
<text class="cl tq" x="165" y="768">LAST2</text>
<text class="cl tq" x="225" y="765">CENPA</text>
<text class="cl tq" x="212" y="778">MBD3</text>
<text class="cl tq" x="175" y="793">AURKA</text>
<text class="cl cy" x="83" y="782">DLGAP5</text>
<text class="cl bl" x="128" y="803">CDK1</text>
<text class="cl cy" x="85" y="823">CCNA1</text>
<text class="cl bl" x="159" y="823">HGF</text>
<text class="cl bl" x="190" y="828">NDC80</text>
<text class="cl bl" x="236" y="818">MPO</text>
<text class="cl bl" x="223" y="841">SPC25</text>
<text class="cl cy" x="111" y="844">CCL5</text>
<text class="cl cy" x="143" y="852">ZWINT</text>
<text class="cl cy" x="93" y="871">STAR</text>
<text class="cl mx" x="182" y="880">RNASE2</text>
<text class="cl bl" x="238" y="880">TOP2A</text>
<text class="cl cy" x="95" y="886">CD38</text>
<text class="cl mx" x="187" y="902">CSTA</text>
<text class="cl cy" x="94" y="906">ANLN</text>
<text class="cl cy" x="140" y="906">IL36B</text>
<text class="cl mx" x="237" y="907">CPA3</text>
<text class="cl cy" x="93" y="925">OLFM4</text>
<text class="cl cy" x="140" y="925">SKA3</text>
<text class="cl cy" x="177" y="926">RNASE3</text>
<text class="cl mx" x="245" y="927">CLC</text>
<text class="cl cy" x="86" y="940">KIAA0101</text>
<text class="cl cy" x="148" y="944">MND1</text>
<text class="cl cy" x="188" y="944">DDX53</text>
<text class="cl mx" x="243" y="944">MS4A3</text>
</g>

<g id="C2">
<text class="pl" x="373" y="747">C2</text>
<path d="M413 760C418 745 430 737 460 737C480 737 492 742 493 752C494 772 500 795 515 810C530 825 555 832 575 840C588 848 588 870 572 876C545 880 460 880 425 876C400 870 392 850 392 820C392 795 405 775 413 760Z" fill="none" stroke="#f01ed2" stroke-width="1.6"/>
<path d="M505 745C508 738 520 737 540 737C560 737 570 742 578 755C590 770 610 785 617 800C625 815 632 830 635 848C636 858 625 860 610 857C600 855 597 845 590 838C570 818 545 808 525 790C512 778 503 760 505 745Z" fill="none" stroke="#ee1111" stroke-width="1.6"/>
<path d="M400 890C410 880 440 877 478 876C492 877 492 890 494 905C497 925 500 950 490 962C480 968 440 969 418 968C400 965 397 955 394 935C390 915 390 898 400 890Z" fill="none" stroke="#1a1ae6" stroke-width="1.6"/>
<path d="M497 900C498 893 510 891 530 892C570 893 600 897 615 910C628 925 640 950 636 958C630 966 580 966 560 964C540 958 525 940 512 925C502 913 495 908 497 900Z" fill="none" stroke="#ff7a2a" stroke-width="1.6"/>
<text class="bd rd" x="549" y="737">a</text>
<text class="bd mg" x="393" y="762">b</text>
<text class="bd or" x="642" y="948">c</text>
<text class="bd db" x="385" y="946">d</text>
<text class="cl mg" x="448" y="748">MAF</text>
<text class="sm" x="571" y="748">STAT5 a/b</text>
<text class="cl mg" x="460" y="765">PIAS1</text>
<text class="cl rd" x="508" y="761">ZNF384</text>
<text class="sm" x="597" y="773">RUNX1T1</text>
<text class="cl mg" x="430" y="782">SLC30A7</text>
<text class="cl rd" x="521" y="786">KRAS</text>
<text class="cl rd" x="553" y="790">CCND2</text>
<text class="cl mg" x="415" y="797">NAV1</text>
<text class="sm" x="620" y="808">PSMA2</text>
<text class="cl rd" x="552" y="810">ERC1</text>
<text class="cl mg" x="423" y="815">SESN1</text>
<text class="sm" x="573" y="820">Histone h3</text>
<text class="cl mg" x="396" y="828">ZBTB10</text>
<text class="sm" x="458" y="832">MFSD3</text>
<text class="sm" x="630" y="835">HDAC9</text>
<text class="cl mg" x="404" y="845">APPBP2</text>
<text class="cl" x="505" y="849" style="font-size:13px">UBC</text>
<text class="cl rd" x="600" y="850">ETV6</text>
<text class="sm" x="444" y="855">FAM92A1</text>
<text class="cl mg" x="540" y="867">ATXN3</text>
<text class="cl mg" x="417" y="870">MTERFD2</text>
<text class="cl db" x="449" y="889">PSMB6</text>
<text class="sm" x="557" y="891">FBXL6</text>
<text class="sm" x="599" y="891">CCNE1</text>
<text class="cl db" x="397" y="900">GGNBP2</text>
<text class="cl or" x="502" y="914">KIF1B</text>
<text class="cl db" x="424" y="919">DYNLL2</text>
<text class="cl or" x="567" y="923">STK38</text>
<text class="cl or" x="529" y="933">YARS2</text>
<text class="cl db" x="464" y="934">KIF1C</text>
<text class="cl db" x="413" y="945">MPO</text>
<text class="cl or" x="583" y="948">TMIE</text>
<text class="cl db" x="419" y="958">LOC728392</text>
<text class="cl or" x="571" y="962">GIMAP6</text>
</g>
</svg>
